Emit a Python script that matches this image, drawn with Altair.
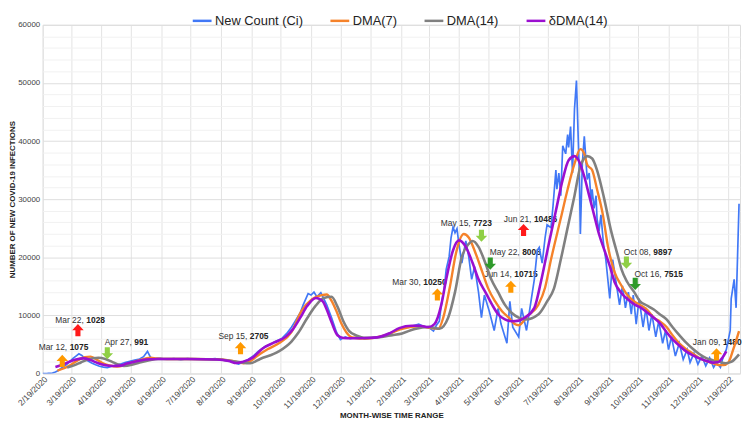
import altair as alt
import pandas as pd

# ---------------- data ----------------
series_names = ["New Count (Ci)", "DMA(7)", "DMA(14)", "δDMA(14)"]
series_colors = ["#4178f6", "#f5822a", "#808080", "#9b0fd0"]

x_tick_labels = ["2/19/2020", "3/19/2020", "4/19/2020", "5/19/2020", "6/19/2020", "7/19/2020",
                 "8/19/2020", "9/19/2020", "10/19/2020", "11/19/2020", "12/19/2020", "1/19/2021",
                 "2/19/2021", "3/19/2021", "4/19/2021", "5/19/2021", "6/19/2021", "7/19/2021",
                 "8/19/2021", "9/19/2021", "10/19/2021", "11/19/2021", "12/19/2021", "1/19/2022"]
y_tick_labels = [0, 10000, 20000, 30000, 40000, 50000, 60000]
y_grid_values = [0, 2000, 4000, 6000, 8000, 10000, 12000, 14000, 16000, 18000, 20000,
                 22000, 24000, 26000, 28000, 30000, 32000, 34000, 36000, 38000, 40000,
                 42000, 44000, 46000, 48000, 50000, 52000, 54000, 56000, 58000, 60000]

count_dates = [
    "2020-02-19", "2020-02-24", "2020-02-29", "2020-03-03", "2020-03-06", "2020-03-09", "2020-03-12",
    "2020-03-15", "2020-03-18", "2020-03-21", "2020-03-24", "2020-03-27", "2020-03-30", "2020-04-02",
    "2020-04-05", "2020-04-09", "2020-04-13", "2020-04-17", "2020-04-21", "2020-04-25", "2020-04-29",
    "2020-05-03", "2020-05-08", "2020-05-13", "2020-05-18", "2020-05-23", "2020-05-28", "2020-06-01",
    "2020-06-05", "2020-06-08", "2020-06-12", "2020-06-18", "2020-06-25", "2020-07-02", "2020-07-09",
    "2020-07-16", "2020-07-23", "2020-07-30", "2020-08-06", "2020-08-13", "2020-08-20", "2020-08-27",
    "2020-09-01", "2020-09-06", "2020-09-11", "2020-09-16", "2020-09-21", "2020-09-26", "2020-10-03",
    "2020-10-08", "2020-10-13", "2020-10-20", "2020-10-25", "2020-10-30", "2020-11-03", "2020-11-08",
    "2020-11-11", "2020-11-16", "2020-11-19", "2020-11-22", "2020-11-25", "2020-11-29", "2020-12-02",
    "2020-12-05", "2020-12-10", "2020-12-15", "2020-12-19", "2020-12-24", "2020-12-29", "2021-01-03",
    "2021-01-08", "2021-01-13", "2021-01-19", "2021-01-24", "2021-01-29", "2021-02-03", "2021-02-08",
    "2021-02-14", "2021-02-21", "2021-02-26", "2021-03-03", "2021-03-09", "2021-03-14", "2021-03-19",
    "2021-03-24", "2021-03-27", "2021-03-30", "2021-04-01", "2021-04-04", "2021-04-06", "2021-04-09",
    "2021-04-11", "2021-04-13", "2021-04-15", "2021-04-17", "2021-04-19", "2021-04-22", "2021-04-26",
    "2021-04-29", "2021-05-02", "2021-05-05", "2021-05-09", "2021-05-12", "2021-05-15", "2021-05-20",
    "2021-05-25", "2021-05-29", "2021-06-01", "2021-06-07", "2021-06-10", "2021-06-13", "2021-06-19",
    "2021-06-22", "2021-06-27", "2021-06-30", "2021-07-05", "2021-07-08", "2021-07-10", "2021-07-13",
    "2021-07-16", "2021-07-18", "2021-07-22", "2021-07-24", "2021-07-27", "2021-07-28", "2021-07-30",
    "2021-08-01", "2021-08-03", "2021-08-06", "2021-08-08", "2021-08-09", "2021-08-11", "2021-08-13",
    "2021-08-15", "2021-08-17", "2021-08-20", "2021-08-21", "2021-08-23", "2021-08-25", "2021-08-26",
    "2021-08-28", "2021-08-30", "2021-09-01", "2021-09-02", "2021-09-04", "2021-09-06", "2021-09-07",
    "2021-09-09", "2021-09-11", "2021-09-13", "2021-09-14", "2021-09-16", "2021-09-20", "2021-09-23",
    "2021-09-26", "2021-09-30", "2021-10-03", "2021-10-06", "2021-10-09", "2021-10-12", "2021-10-14",
    "2021-10-17", "2021-10-20", "2021-10-24", "2021-10-27", "2021-10-30", "2021-11-02", "2021-11-06",
    "2021-11-09", "2021-11-13", "2021-11-16", "2021-11-19", "2021-11-22", "2021-11-26", "2021-11-30",
    "2021-12-04", "2021-12-08", "2021-12-11", "2021-12-15", "2021-12-19", "2021-12-23", "2021-12-27",
    "2021-12-31", "2022-01-04", "2022-01-07", "2022-01-11", "2022-01-14", "2022-01-17", "2022-01-21",
    "2022-01-22", "2022-01-25", "2022-01-27", "2022-01-30"]
count_values = [
    0, 30, 80, 250, 500, 900, 1250,
    1600, 2100, 2600, 3000, 3400, 3100, 2600,
    2200, 1800, 1500, 1250, 1100, 1000, 1200,
    1400, 1600, 1900, 2100, 2300, 2500, 2900,
    3800, 2800, 2500, 2600, 2450, 2550, 2400,
    2550, 2450, 2500, 2450, 2550, 2350, 2150,
    1900, 1600, 2000, 2400, 3000, 3800, 4650,
    5000, 5470, 6000, 6850, 7950, 9050, 10450,
    11800, 13750, 13500, 14000, 13200, 13900, 12900,
    11800, 9600, 7100, 5850, 6300, 6000, 6200,
    6300, 5950, 6100, 6250, 6300, 6500, 6850,
    7400, 7950, 8000, 8200, 8500, 8100, 7950,
    7300, 8300, 9000, 11800, 14600, 17900, 20100,
    23400, 25200, 24200, 24900, 22300, 19000, 22800,
    20100, 16200, 18400, 14000, 9600, 13500, 10700,
    7400, 11200, 8500, 5200, 12400, 7950, 6300,
    11200, 7400, 10700, 16200, 21200, 21700, 19000,
    23400, 25600, 25100, 28700, 35000, 31700, 34500,
    30600, 39200, 37800, 41100, 38900, 42500, 34500,
    45500, 50400, 33900, 24000, 36100, 40800, 38400,
    33400, 34500, 29500, 31700, 28400, 30600, 26700,
    24500, 27300, 23400, 21800, 19600, 12900, 19600,
    16200, 11800, 15100, 11300, 14000, 10200, 13500,
    8500, 12900, 8000, 11300, 7400, 10200, 6300,
    9000, 5200, 7400, 4100, 6300, 3000, 5200,
    2400, 4100, 1900, 3500, 1600, 3000, 1300,
    2700, 1050, 1900, 1050, 3000, 4100, 7400,
    12900, 16200, 11300, 29200]

dma7_dates = [
    "2020-03-05", "2020-03-12", "2020-03-19", "2020-03-26", "2020-04-02", "2020-04-08", "2020-04-13",
    "2020-04-20", "2020-04-27", "2020-05-05", "2020-05-12", "2020-05-20", "2020-05-28", "2020-06-08",
    "2020-06-14", "2020-06-25", "2020-07-20", "2020-08-20", "2020-09-01", "2020-09-11", "2020-09-18",
    "2020-09-25", "2020-10-06", "2020-10-18", "2020-10-30", "2020-11-09", "2020-11-20", "2020-11-30",
    "2020-12-05", "2020-12-10", "2020-12-15", "2020-12-20", "2020-12-25", "2020-12-31", "2021-01-15",
    "2021-02-01", "2021-02-20", "2021-03-10", "2021-03-22", "2021-03-29", "2021-04-03", "2021-04-10",
    "2021-04-16", "2021-04-24", "2021-04-29", "2021-05-06", "2021-05-13", "2021-05-19", "2021-05-26",
    "2021-06-02", "2021-06-09", "2021-06-15", "2021-06-19", "2021-06-28", "2021-07-09", "2021-07-16",
    "2021-07-22", "2021-08-01", "2021-08-08", "2021-08-15", "2021-08-21", "2021-08-25", "2021-08-28",
    "2021-09-02", "2021-09-07", "2021-09-13", "2021-09-18", "2021-09-25", "2021-10-02", "2021-10-08",
    "2021-10-15", "2021-10-21", "2021-10-28", "2021-11-04", "2021-11-10", "2021-11-17", "2021-11-23",
    "2021-11-30", "2021-12-07", "2021-12-14", "2021-12-20", "2021-12-27", "2022-01-03", "2022-01-10",
    "2022-01-14", "2022-01-19", "2022-01-24", "2022-01-30"]
dma7_values = [
    500, 900, 1500, 2300, 2800, 2900, 2500,
    1800, 1400, 1200, 1400, 1900, 2300, 2700,
    2600, 2500, 2500, 2400, 2100, 1770, 2100,
    3000, 4200, 5300, 7100, 10700, 12800, 13500,
    13600, 12500, 10700, 8600, 7100, 6200, 6000,
    6500, 7700, 8100, 7800, 7700, 9600, 15100,
    20700, 24000, 23400, 20700, 17400, 14600, 12400,
    10700, 9600, 8500, 8300, 9900, 11800, 14800,
    19600, 26700, 31700, 36100, 38600, 37800, 35900,
    35000, 31700, 27300, 22000, 17400, 15100, 13500,
    12400, 11800, 11000, 9600, 9000, 8000, 6600,
    5200, 4200, 3400, 2700, 2150, 1770, 1440,
    1440, 1870, 4100, 7300]

dma14_dates = [
    "2020-03-15", "2020-03-22", "2020-03-29", "2020-04-05", "2020-04-16", "2020-04-23", "2020-04-30",
    "2020-05-07", "2020-05-12", "2020-05-20", "2020-05-28", "2020-06-07", "2020-06-16", "2020-07-20",
    "2020-08-20", "2020-09-05", "2020-09-18", "2020-09-28", "2020-10-17", "2020-10-30", "2020-11-06",
    "2020-11-15", "2020-11-23", "2020-12-02", "2020-12-10", "2020-12-16", "2020-12-22", "2020-12-28",
    "2021-01-05", "2021-01-12", "2021-01-25", "2021-02-10", "2021-02-20", "2021-03-05", "2021-03-19",
    "2021-03-30", "2021-04-08", "2021-04-15", "2021-04-22", "2021-04-29", "2021-05-03", "2021-05-09",
    "2021-05-16", "2021-05-22", "2021-05-29", "2021-06-05", "2021-06-12", "2021-06-19", "2021-06-26",
    "2021-07-09", "2021-07-18", "2021-07-25", "2021-08-01", "2021-08-08", "2021-08-15", "2021-08-21",
    "2021-08-28", "2021-09-02", "2021-09-07", "2021-09-14", "2021-09-21", "2021-09-28", "2021-10-02",
    "2021-10-08", "2021-10-15", "2021-10-21", "2021-10-28", "2021-11-04", "2021-11-10", "2021-11-17",
    "2021-11-23", "2021-11-30", "2021-12-07", "2021-12-14", "2021-12-20", "2021-12-27", "2022-01-03",
    "2022-01-10", "2022-01-16", "2022-01-22", "2022-01-30"]
dma14_values = [
    1050, 1400, 1900, 2400, 2700, 2500, 2000,
    1500, 1300, 1500, 1900, 2300, 2500, 2500,
    2350, 2000, 1770, 2500, 3800, 5500, 7000,
    9500, 11500, 13000, 13200, 11500, 9000, 7300,
    6500, 6130, 6200, 6600, 6900, 7670, 8000,
    7700, 9600, 14000, 20100, 22300, 22800, 21800,
    19000, 16200, 14000, 11800, 10400, 9600, 9300,
    10150, 12400, 14600, 19600, 25100, 30600, 35600,
    37400, 37000, 35000, 30300, 24800, 20400, 17900,
    15700, 14000, 12400, 11700, 11000, 10200, 9300,
    8000, 6600, 5300, 4200, 3400, 2700, 2300,
    2000, 1770, 2000, 3300]

ddma14_dates = [
    "2020-03-03", "2020-03-10", "2020-03-17", "2020-03-24", "2020-04-01", "2020-04-08", "2020-04-15",
    "2020-04-22", "2020-05-01", "2020-05-08", "2020-05-15", "2020-05-25", "2020-06-03", "2020-06-15",
    "2020-07-15", "2020-08-15", "2020-08-27", "2020-09-04", "2020-09-10", "2020-09-20", "2020-10-01",
    "2020-10-12", "2020-10-24", "2020-10-31", "2020-11-08", "2020-11-15", "2020-11-24", "2020-12-01",
    "2020-12-05", "2020-12-10", "2020-12-16", "2020-12-22", "2020-12-31", "2021-01-15", "2021-01-28",
    "2021-02-08", "2021-02-17", "2021-03-02", "2021-03-10", "2021-03-19", "2021-03-25", "2021-04-01",
    "2021-04-06", "2021-04-13", "2021-04-19", "2021-04-26", "2021-05-03", "2021-05-09", "2021-05-16",
    "2021-05-23", "2021-05-29", "2021-06-05", "2021-06-12", "2021-06-19", "2021-06-25", "2021-07-05",
    "2021-07-12", "2021-07-20", "2021-07-27", "2021-08-03", "2021-08-09", "2021-08-15", "2021-08-20",
    "2021-08-25", "2021-08-30", "2021-09-04", "2021-09-09", "2021-09-15", "2021-09-20", "2021-09-25",
    "2021-10-02", "2021-10-09", "2021-10-16", "2021-10-22", "2021-10-29", "2021-11-04", "2021-11-11",
    "2021-11-17", "2021-11-24", "2021-12-01", "2021-12-07", "2021-12-14", "2021-12-21", "2021-12-28",
    "2022-01-04", "2022-01-09", "2022-01-13", "2022-01-17"]
ddma14_values = [
    1100, 1500, 2000, 2400, 2600, 2300, 1800,
    1450, 1300, 1350, 1700, 2100, 2400, 2500,
    2500, 2400, 2150, 1800, 2000, 2700, 4350,
    5300, 6300, 7500, 9600, 11600, 13000, 12400,
    11000, 8800, 6570, 6100, 6050, 6100, 6300,
    7000, 7800, 8200, 8200, 8000, 8500, 11800,
    16200, 21200, 22900, 21800, 19000, 16200, 14000,
    11800, 10200, 9300, 9000, 9100, 9600, 11300,
    16000, 22500, 28000, 33400, 36700, 37400, 36400,
    33900, 30600, 27300, 24000, 21000, 18500, 15700,
    13800, 12700, 11800, 11300, 10400, 9600, 8500,
    7100, 5750, 4650, 3800, 3100, 2550, 2150,
    1870, 2000, 2700, 3800]

# annotations (arrows and their labels)
ann_date_text = ["Mar 12,", "Mar 22,", "Apr 27,", "Sep 15,", "Mar 30,", "May 15,",
                 "May 22,", "Jun 14,", "Jun 21,", "Oct 08,", "Oct 16,", "Jan 09,"]
ann_number_text = ["1075", "1028", "991", "2705", "10250", "7723",
                   "8005", "10715", "10486", "9897", "7515", "1480"]
ann_arrow_dates = ["2020-03-10", "2020-03-26", "2020-04-25", "2020-09-08", "2021-03-28", "2021-05-12",
                   "2021-05-21", "2021-06-11", "2021-06-24", "2021-10-07", "2021-10-16", "2022-01-07"]
ann_arrow_values = [2160, 7460, 3480, 4360, 13600, 23710, 18900, 14920, 24700, 19070, 15420, 3320]
ann_direction = ["up", "up", "down", "up", "up", "down", "down", "up", "up", "down", "down", "up"]
ann_kind = ["orange", "red", "lightgreen", "orange", "orange", "lightgreen",
            "darkgreen", "orange", "red", "lightgreen", "darkgreen", "orange"]
ann_label_dates = ["2020-03-15", "2020-04-01", "2020-05-20", "2020-09-15", "2021-03-11", "2021-05-01",
                   "2021-06-20", "2021-06-12", "2021-07-02", "2021-11-01", "2021-11-12", "2022-01-11"]
ann_label_values = [4480, 9280, 5470, 6470, 15750, 25870, 20890, 17080, 26530, 20890, 17080, 5470]

# ---------------- tables ----------------
def series_frame(dates, values, name):
    return pd.DataFrame({"date": dates, "value": values, "series": name})

frames = [series_frame(count_dates, count_values, series_names[0]),
          series_frame(dma7_dates, dma7_values, series_names[1]),
          series_frame(dma14_dates, dma14_values, series_names[2]),
          series_frame(ddma14_dates, ddma14_values, series_names[3])]

arrows_df = pd.DataFrame({"date": ann_arrow_dates, "value": ann_arrow_values,
                          "dir": ann_direction, "kind": ann_kind})
labels_df = pd.DataFrame({"date": ann_label_dates, "value": ann_label_values,
                          "dtext": ann_date_text, "ntext": ann_number_text})

# ---------------- encodings ----------------
FONT = "Liberation Sans"

def parse_tick(s):
    m, d, y = s.split("/")
    return alt.DateTime(year=int(y), month=int(m), date=int(d), utc=True)

x_enc = alt.X(
    "date:T",
    scale=alt.Scale(type="utc", domain=[alt.DateTime(year=2020, month=2, date=19, utc=True),
                                        alt.DateTime(year=2022, month=1, date=31, utc=True)], nice=False),
    axis=alt.Axis(values=[parse_tick(s) for s in x_tick_labels], format="%-m/%-d/%Y",
                  labelAngle=-45, labelFontSize=8.5, labelColor="#444444", labelFont=FONT,
                  ticks=False, domain=False, grid=True, gridColor="#e3e3e3",
                  labelPadding=1, labelOverlap=False, labelBound=False, labelFlush=False,
                  title="MONTH-WISE TIME RANGE", titleFont=FONT, titleFontSize=8,
                  titleFontWeight="bold", titleColor="#222222", titlePadding=1),
)
y_enc = alt.Y(
    "value:Q",
    scale=alt.Scale(domain=[0, 60000], nice=False, zero=True),
    axis=alt.Axis(values=y_grid_values, format="d",
                  labelExpr="indexof(" + str(y_tick_labels) + ", datum.value) >= 0 ? datum.label : ''",
                  labelFontSize=8, labelColor="#444444", labelFont=FONT, labelPadding=3,
                  ticks=False, domain=False, grid=True,
                  gridColor={"condition": {"test": "datum.value % 10000 === 0", "value": "#dedede"},
                             "value": "#f1f1f1"},
                  title="NUMBER OF NEW COVID-19 INFECTIONS", titleFont=FONT, titleFontSize=8,
                  titleFontWeight="bold", titleColor="#222222", titlePadding=1),
)

color_enc = alt.Color(
    "series:N",
    scale=alt.Scale(domain=series_names, range=series_colors),
    legend=alt.Legend(orient="none", legendX=150, legendY=-15, direction="horizontal", columns=4,
                      title=None, symbolType="stroke", symbolStrokeWidth=2.5, symbolSize=360,
                      labelFontSize=13, labelFont=FONT, labelColor="#222222", labelOffset=2,
                      columnPadding=22, padding=0),
)

# ---------------- layers ----------------
text_date = alt.Chart(labels_df).mark_text(
    align="right", baseline="middle", font=FONT, fontSize=8.5, color="#333333"
).encode(x=x_enc, y=y_enc, text="dtext:N")
text_num = alt.Chart(labels_df).mark_text(
    align="left", baseline="middle", font=FONT, fontSize=8.5, fontWeight="bold", color="#222222", dx=2.5
).encode(x=x_enc, y=y_enc, text="ntext:N")

stroke_widths = [1.7, 2.4, 2.6, 2.6]
interps = ["linear", "monotone", "monotone", "monotone"]
line_layers = []
for name, sw, ip, frame in zip(series_names, stroke_widths, interps, frames):
    line_layers.append(
        alt.Chart(frame).mark_line(strokeWidth=sw, interpolate=ip, clip=True)
        .encode(x=x_enc, y=y_enc, color=color_enc)
    )

UP = "M0,-1L0.95,0L0.42,0L0.42,1L-0.42,1L-0.42,0L-0.95,0Z"
DOWN = "M0,1L0.95,0L0.42,0L0.42,-1L-0.42,-1L-0.42,0L-0.95,0Z"
arrows = alt.Chart(arrows_df).mark_point(filled=True, opacity=1, strokeWidth=0, size=150).encode(
    x=x_enc, y=y_enc,
    shape=alt.Shape("dir:N", scale=alt.Scale(domain=["up", "down"], range=[UP, DOWN]), legend=None),
    fill=alt.Fill("kind:N", scale=alt.Scale(domain=["orange", "red", "lightgreen", "darkgreen"],
                                             range=["#ff9900", "#ff1a1a", "#8fcf45", "#2f9a2a"]),
                  legend=None),
)

chart = alt.layer(text_date, text_num, *line_layers, arrows).properties(
    width=704, height=352, padding={"left": 0, "top": 0, "right": 0, "bottom": 0}
).configure_view(stroke=None).configure(font=FONT)

chart.save("out.html", embed_options={"renderer": "svg", "actions": False})
